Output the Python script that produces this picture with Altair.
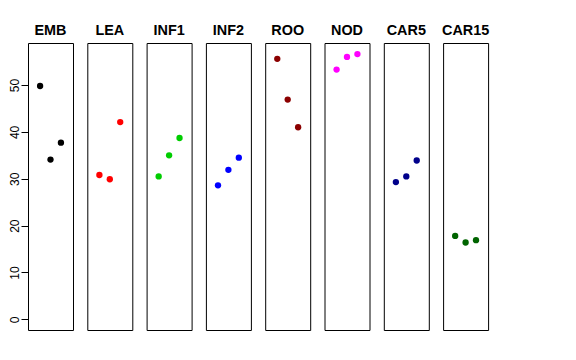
import altair as alt
import pandas as pd

panels = ["EMB", "LEA", "INF1", "INF2", "ROO", "NOD", "CAR5", "CAR15"]
colors = ["#000000", "#FF0000", "#00CD00", "#0000FF", "#8B0000", "#FF00FF", "#00008B", "#006400"]
positions = [1, 2, 3]
values = {
    "EMB": [49.8, 34.1, 37.7],
    "LEA": [30.8, 29.9, 42.1],
    "INF1": [30.5, 35.0, 38.7],
    "INF2": [28.6, 31.9, 34.5],
    "ROO": [55.6, 46.9, 41.0],
    "NOD": [53.3, 56.0, 56.6],
    "CAR5": [29.3, 30.5, 33.9],
    "CAR15": [17.8, 16.4, 16.9],
}
y_ticks = [0, 10, 20, 30, 40, 50]

rows = []
for p in panels:
    for xi, v in zip(positions, values[p]):
        rows.append({"panel": p, "x": xi, "y": v})
df = pd.DataFrame(rows)

base = alt.Chart(df).mark_circle(size=40, opacity=1).encode(
    x=alt.X("x:Q", scale=alt.Scale(domain=[-0.16, 4.16], nice=False, zero=False), axis=None),
    y=alt.Y("y:Q", scale=alt.Scale(domain=[-2.27, 58.97], nice=False, zero=False),
            axis=alt.Axis(values=y_ticks, title=None, grid=False, domain=False,
                          tickSize=7, tickColor="black", labelColor="black",
                          labelFont="Liberation Sans", labelFontSize=12,
                          labelAngle=270, labelPadding=0)),
    color=alt.Color("panel:N", scale=alt.Scale(domain=panels, range=colors), legend=None),
).properties(width=45, height=287)

chart = base.facet(
    column=alt.Column("panel:N", sort=panels,
                      header=alt.Header(title=None, labelFontSize=14.4, labelFontWeight="bold",
                                        labelFont="Liberation Sans", labelColor="black",
                                        labelPadding=5))
).properties(
    bounds="flush",
    padding={"left": 0, "top": 14, "right": 0, "bottom": 0}
).configure_facet(spacing=14.3).configure_view(stroke="black", strokeWidth=1)

chart.save("out.html", embed_options={"renderer": "svg", "actions": False})
